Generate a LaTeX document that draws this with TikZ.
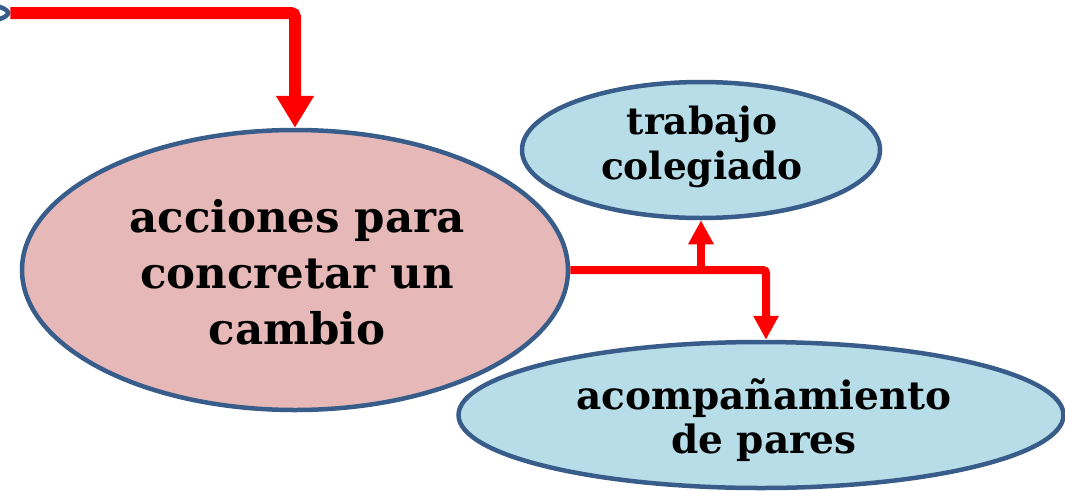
\documentclass[tikz,border=0pt]{standalone}
\usepackage{fontspec}
\setmainfont{DejaVu Serif}
\usetikzlibrary{shapes.geometric,arrows.meta}
\definecolor{edgeblue}{HTML}{385D8A}
\definecolor{pinkfill}{HTML}{E6B9B8}
\definecolor{bluefill}{HTML}{B7DDE8}
\definecolor{arrowred}{HTML}{FF0000}
\tikzset{
  oval/.style={ellipse, draw=edgeblue, line width=4.5pt, inner sep=0pt},
  label text/.style={align=center, inner sep=0pt},
  bigtext/.style={font=\bfseries\fontsize{43.5}{56}\selectfont},
  toptext/.style={font=\bfseries\fontsize{37.5}{45}\selectfont},
  bottext/.style={font=\bfseries\fontsize{39}{44}\selectfont},
  thickarrow/.style={draw=arrowred, line width=12pt, rounded corners=4pt,
    -{Triangle[width=36pt,length=32pt]}},
  thinarrow/.style={draw=arrowred, line width=8pt, rounded corners=3pt,
    -{Triangle[width=24pt,length=24pt]}}
}
\begin{document}
\begin{tikzpicture}[x=1pt,y=-1pt]
\useasboundingbox (0,0) rectangle (1065,490);
% off-picture previous shape
\node[oval, fill=white, minimum width=800pt, minimum height=60pt] (prev) at (-392,13) {};
% main ellipses
\node[oval, fill=pinkfill, minimum width=546pt, minimum height=280pt] (acc) at (295,270) {};
\node[label text, bigtext] (acctext) at (297,272) {acciones para\\concretar un\\cambio};
\node[oval, fill=bluefill, minimum width=358pt, minimum height=136pt] (trab) at (701,150) {};
\node[label text, toptext] (trabtext) at (702,147) {trabajo\\colegiado};
\node[oval, fill=bluefill, minimum width=605pt, minimum height=146pt] (pares) at (761,415) {};
\node[label text, bottext] (parestext) at (764,420) {acompañamiento\\de pares};
% connectors
\draw[thickarrow] (prev.east) -| (acc.north);
\coordinate (bend) at ([xshift=5pt]pares.north);
\draw[thinarrow] (acc.east) -| (bend);
\draw[thinarrow] (acc.east -| trab.south) -- (trab.south);
\end{tikzpicture}
\end{document}
